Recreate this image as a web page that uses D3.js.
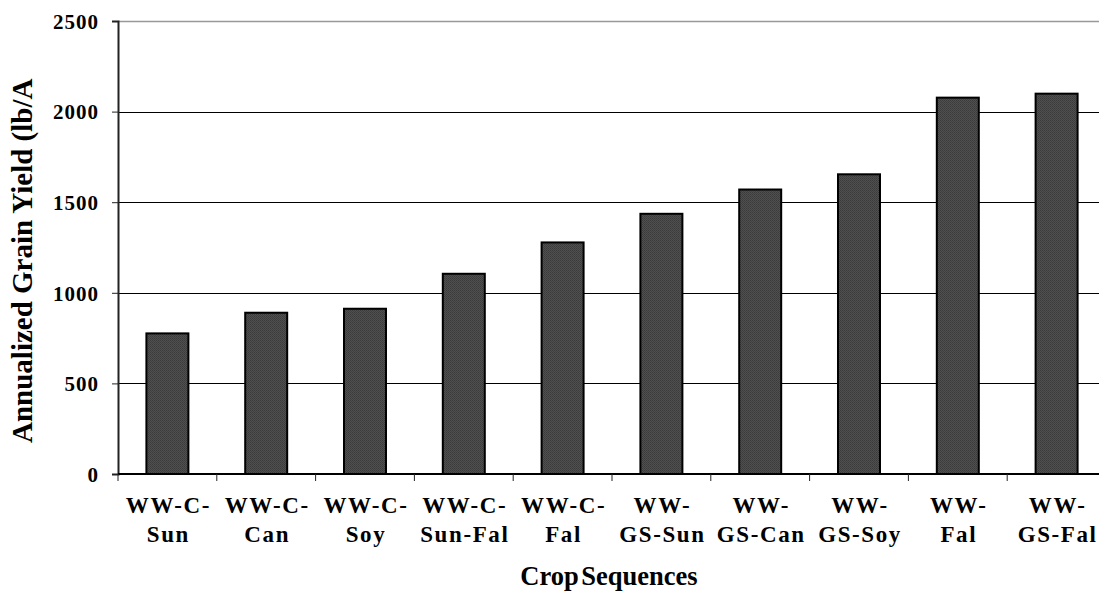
<!DOCTYPE html>
<html><head><meta charset="utf-8">
<script src="https://cdn.jsdelivr.net/npm/d3@7"></script>
<style>
html,body{margin:0;padding:0;background:#fff;}
svg{display:block;}
text{font-family:"Liberation Serif","Times New Roman",serif;font-weight:bold;fill:#000;}
</style></head>
<body>
<svg id="chart" width="1099" height="597"></svg>
<script>
const categories = ["WW-C-Sun","WW-C-Can","WW-C-Soy","WW-C-Sun-Fal","WW-C-Fal","WW-GS-Sun","WW-GS-Can","WW-GS-Soy","WW-Fal","WW-GS-Fal"];
const labelLine1 = ["WW-C-","WW-C-","WW-C-","WW-C-","WW-C-","WW-","WW-","WW-","WW-","WW-"];
const labelLine2 = ["Sun","Can","Soy","Sun-Fal","Fal","GS-Sun","GS-Can","GS-Soy","Fal","GS-Fal"];
const yieldValues = [776, 890, 912, 1105, 1278, 1436, 1570, 1654, 2077, 2099];
const yTicks = [0, 500, 1000, 1500, 2000, 2500];
const yTitle = "Annualized Grain Yield (lb/A";
const xTitle = "Crop Sequences";

(function(){
const svg = d3.select("#chart");
const mLeft = 118, mRight = 1106, mTop = 21, mBottom = 474;

const defs = svg.append("defs");
const pat = defs.append("pattern").attr("id","tex").attr("patternUnits","userSpaceOnUse")
  .attr("width",2).attr("height",2);
pat.append("rect").attr("width",2).attr("height",2).attr("fill","#505050");
pat.append("rect").attr("width",1).attr("height",1).attr("fill","#3a3a3a");
pat.append("rect").attr("x",1).attr("y",1).attr("width",1).attr("height",1).attr("fill","#404040");

const x = d3.scaleBand().domain(categories).range([mLeft, mRight])
  .paddingInner(0.575).paddingOuter(0.2875);
const y = d3.scaleLinear().domain([0, 2500]).range([mBottom, mTop]);

// gridlines
svg.append("g").selectAll("line").data(yTicks.filter(d => d > 0)).join("line")
  .attr("x1", mLeft).attr("x2", 1099)
  .attr("y1", d => Math.round(y(d)) + 0.5).attr("y2", d => Math.round(y(d)) + 0.5)
  .attr("stroke", d => d === 2500 ? "#999" : "#000").attr("stroke-width", d => d === 2500 ? 1.5 : 1);

// bars
svg.append("g").selectAll("rect").data(yieldValues).join("rect")
  .attr("x", (d, i) => x(categories[i]))
  .attr("y", d => y(d))
  .attr("width", x.bandwidth())
  .attr("height", d => mBottom - y(d))
  .attr("fill", "url(#tex)")
  .attr("stroke", "#000").attr("stroke-width", 2);

// y axis
const yAxis = d3.axisLeft(y).tickValues(yTicks).tickSize(6).tickPadding(13).tickFormat(d3.format("d"));
const gy = svg.append("g").attr("transform", `translate(${mLeft},0)`).call(yAxis);
gy.attr("font-family", null).attr("font-size", null);
gy.select(".domain").attr("stroke", "#222").attr("stroke-width", 2);
gy.selectAll(".tick line").attr("stroke", "#222");
gy.selectAll(".tick text").style("font-size", "21px").style("letter-spacing", "1px")
  .attr("dy", "0.35em").attr("fill", "#000");

// x axis baseline
svg.append("line").attr("x1", mLeft).attr("x2", 1099).attr("y1", mBottom).attr("y2", mBottom)
  .attr("stroke", "#000").attr("stroke-width", 2);

// category separators
const step = x.step();
const seps = categories.map(c => x(c) - step * x.paddingInner() / 2);
seps.push(x(categories[categories.length - 1]) + x.bandwidth() + step * x.paddingInner() / 2);
svg.append("g").selectAll("line").data(seps).join("line")
  .attr("x1", d => d).attr("x2", d => d).attr("y1", mBottom).attr("y2", mBottom + 7)
  .attr("stroke", "#222").attr("stroke-width", 1);

// x labels
const xl = svg.append("g").selectAll("g").data(categories).join("g")
  .attr("transform", c => `translate(${x(c) + x.bandwidth() / 2},0)`);
xl.append("text").attr("y", 513).attr("text-anchor", "middle")
  .style("font-size", "23px").style("letter-spacing", "1.6px").attr("dx", 1)
  .text((c, i) => labelLine1[i]);
xl.append("text").attr("y", 542).attr("text-anchor", "middle")
  .style("font-size", "23px").style("letter-spacing", "1.6px").attr("dx", 1)
  .text((c, i) => labelLine2[i]);

// titles
svg.append("text").attr("x", 609).attr("y", 585).attr("text-anchor", "middle")
  .style("font-size", "26.5px").style("word-spacing", "-4px").text(xTitle);
svg.append("text").attr("transform", "translate(32,443) rotate(-90)")
  .attr("text-anchor", "start").style("font-size", "29px").text(yTitle);
})();
</script>
</body></html>
